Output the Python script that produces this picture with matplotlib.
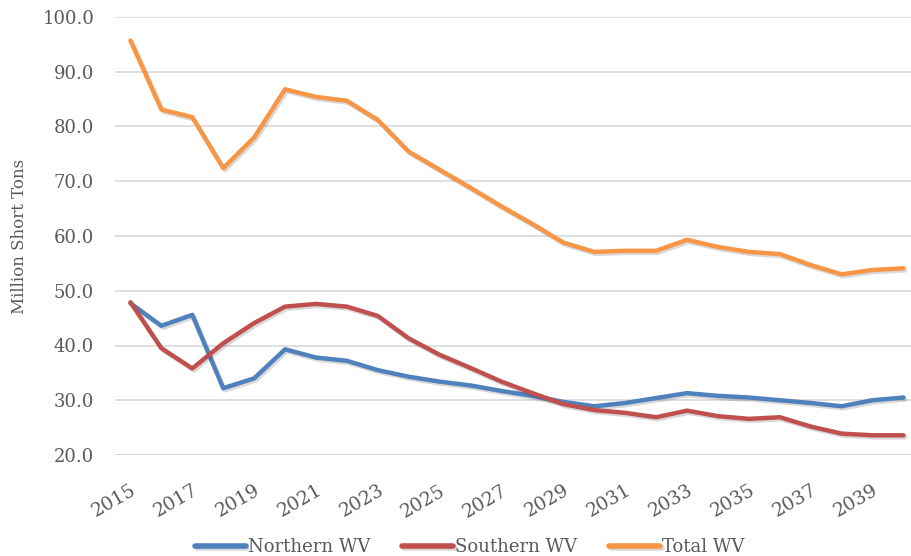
import matplotlib
matplotlib.use("Agg")
import matplotlib.pyplot as plt
import matplotlib.patheffects as pe

years = list(range(2015, 2041))
northern = [47.7, 43.6, 45.6, 32.2, 34.0, 39.3, 37.8, 37.2, 35.5, 34.3, 33.4, 32.7,
            31.7, 30.8, 29.7, 28.9, 29.5, 30.4, 31.3, 30.8, 30.5, 30.0, 29.5, 28.9,
            30.0, 30.5]
southern = [47.9, 39.5, 35.8, 40.4, 44.1, 47.1, 47.6, 47.1, 45.4, 41.3, 38.3, 35.9,
            33.4, 31.3, 29.3, 28.2, 27.7, 26.9, 28.1, 27.1, 26.6, 26.9, 25.2, 23.9,
            23.6, 23.6]
total = [95.7, 83.1, 81.7, 72.4, 78.0, 86.8, 85.4, 84.7, 81.2, 75.4, 72.1, 68.8,
         65.4, 62.2, 58.8, 57.1, 57.3, 57.3, 59.3, 58.0, 57.1, 56.7, 54.7, 53.0,
         53.8, 54.1]
series_names = ["Northern WV", "Southern WV", "Total WV"]
colors = ["#4F81BD", "#C0504D", "#F79646"]
yticks = [20, 30, 40, 50, 60, 70, 80, 90, 100]
xticks = list(range(2015, 2041, 2))

plt.rcParams['font.family'] = ['DejaVu Serif']
txt = "#595959"

fig = plt.figure(figsize=(9.12, 5.56), dpi=100)
ax = fig.add_axes([115/912, 1-455/556, 1-115/912, (455-17)/556])

shadow = [pe.SimpleLineShadow(offset=(1.2, -1.5), alpha=0.15, shadow_color='black'), pe.Normal()]
for vals, name, c in zip([northern, southern, total], series_names, colors):
    ax.plot(years, vals, color=c, lw=3.2, label=name, solid_capstyle='round',
            solid_joinstyle='round', path_effects=shadow)

ax.set_xlim(2014.5, 2014.5 + 797/30.92)
ax.set_ylim(20, 100)
ax.set_yticks(yticks)
ax.set_yticklabels([f"{v:.1f}" for v in yticks])
ax.set_xticks(xticks)
ax.set_xticklabels([str(x) for x in xticks], rotation=30, ha='right', rotation_mode='anchor')
ax.tick_params(axis='y', length=0, pad=15, labelsize=13, labelcolor=txt)
ax.tick_params(axis='x', length=0, pad=19, labelsize=13.5, labelcolor=txt)
for s in ax.spines.values():
    s.set_visible(False)
ax.grid(axis='y', color='#D9D9D9', lw=1.2)
ax.set_axisbelow(True)
ax.axhline(20, color='#D0D0D0', lw=1.8, zorder=0.5)
ax.set_ylabel("Million Short Tons", fontsize=12, color=txt, labelpad=10)

leg = fig.legend(loc='lower center', bbox_to_anchor=(0.515, -0.03), ncol=3, frameon=False,
                 fontsize=13, handlelength=2.8, handletextpad=0.1, columnspacing=1.8,
                 labelcolor=txt)
for h in leg.get_lines():
    h.set_linewidth(4)

fig.savefig("out.png", dpi=100)
